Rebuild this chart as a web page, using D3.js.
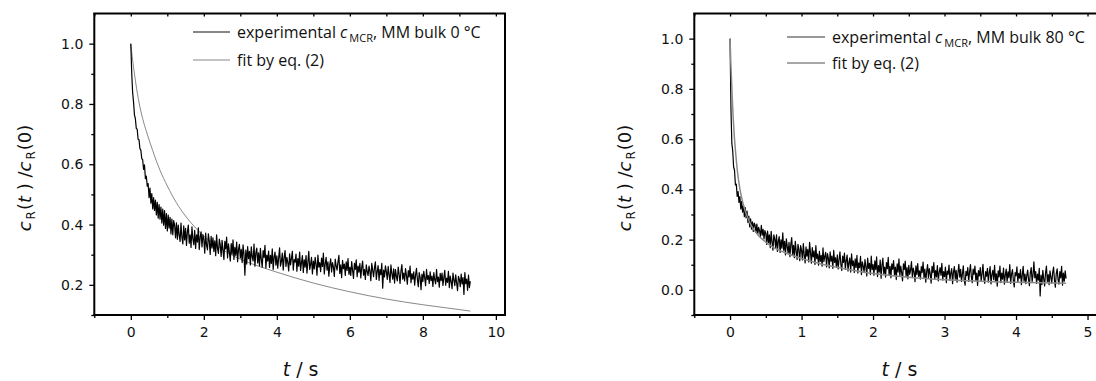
<!DOCTYPE html>
<html><head><meta charset="utf-8">
<script src="https://cdn.jsdelivr.net/npm/d3@7"></script>
<style>
html,body{margin:0;padding:0;background:#fff;}
svg{display:block;}
</style></head>
<body>
<svg id="chart" width="1096" height="381"></svg>
<script>
// ---------- DATA ----------
// Left panel (MM bulk 0 °C): experimental trace, one value every 0.025 s from t = 0
const leftStep = 0.025;
const leftExp = [
1.000,.903,.838,.806,.764,.751,.719,.716,.683,.681,
.652,.647,.619,.615,.583,.598,.552,.561,.527,.536,
.489,.521,.471,.503,.452,.489,.447,.481,.432,.474,
.421,.466,.418,.458,.405,.451,.398,.446,.387,.436,
.379,.431,.388,.424,.369,.418,.366,.413,.398,.356,
.406,.351,.398,.365,.344,.405,.358,.336,.396,.349,
.387,.331,.376,.398,.338,.366,.324,.392,.352,.333,
.381,.321,.366,.342,.389,.317,.358,.376,.326,.367,
.352,.305,.372,.331,.316,.369,.344,.301,.361,.322,
.356,.311,.346,.297,.366,.321,.304,.352,.333,.294,
.348,.315,.284,.344,.319,.358,.289,.336,.309,.279,
.337,.302,.349,.284,.324,.298,.342,.277,.318,.334,
.289,.318,.274,.333,.301,.232,.315,.269,.327,.287,
.311,.266,.326,.293,.279,.335,.262,.306,.322,.273,
.306,.263,.321,.284,.259,.314,.291,.331,.256,.299,
.279,.312,.258,.298,.271,.319,.251,.292,.309,.265,
.296,.255,.289,.323,.262,.278,.305,.249,.291,.314,
.261,.291,.274,.246,.303,.266,.288,.311,.249,.284,
.275,.302,.245,.287,.262,.309,.248,.273,.297,.241,
.283,.259,.297,.239,.275,.311,.251,.268,.291,.236,
.279,.253,.291,.268,.232,.299,.259,.274,.244,.289,
.261,.305,.236,.269,.291,.249,.276,.229,.266,.286,
.243,.274,.259,.228,.285,.263,.249,.276,.298,.238,
.266,.224,.281,.254,.269,.231,.276,.248,.287,.235,
.258,.231,.277,.248,.221,.271,.251,.283,.227,.262,
.242,.271,.223,.257,.279,.232,.251,.218,.266,.244,
.231,.262,.245,.214,.271,.249,.227,.257,.276,.218,
.245,.264,.215,.251,.234,.271,.189,.249,.226,.263,
.243,.218,.261,.234,.208,.266,.238,.219,.253,.206,
.251,.228,.213,.259,.235,.205,.246,.267,.219,.239,
.213,.254,.231,.202,.247,.226,.262,.207,.237,.219,
.243,.199,.232,.255,.219,.194,.241,.225,.184,.236,
.211,.245,.223,.197,.251,.218,.231,.205,.243,.214,
.229,.195,.241,.217,.203,.251,.211,.226,.192,.238,
.214,.239,.198,.224,.248,.199,.222,.208,.245,.191,
.229,.211,.187,.239,.216,.197,.233,.206,.181,.228,
.218,.194,.236,.203,.224,.168,.241,.204,.219,.182,
.232,.191,.212
];
// Left fit by eq. (2): [t, value]
const leftFit = [
[0,1.0],[0.05,0.945],[0.1,0.9],[0.16,0.85],[0.25,0.79],[0.35,0.74],[0.45,0.70],
[0.6,0.645],[0.8,0.58],[1.0,0.528],[1.25,0.472],[1.5,0.428],[1.75,0.392],[2.0,0.362],
[2.5,0.318],[3.0,0.285],[3.5,0.262],[4.0,0.242],[5.0,0.206],[6.0,0.177],[7.0,0.153],
[8.0,0.134],[9.0,0.118],[9.3,0.113]
];
// Right panel (MM bulk 80 °C): experimental trace, one value every 0.0125 s from t = 0
const rightStep = 0.0125;
const rightExp = [
1.000,.724,.583,.552,.489,.476,.418,.421,.372,.391,
.348,.371,.322,.352,.309,.338,.291,.327,.286,.314,
.268,.294,.251,.283,.242,.271,.233,.266,.258,.229,
.262,.221,.249,.236,.213,.257,.218,.241,.203,.236,
.226,.181,.234,.189,.219,.168,.233,.191,.158,.219,
.203,.169,.219,.153,.193,.212,.149,.199,.166,.227,
.158,.193,.139,.203,.172,.145,.189,.132,.181,.208,
.141,.177,.128,.193,.155,.121,.181,.161,.116,.176,
.157,.119,.184,.139,.107,.171,.134,.161,.111,.189,
.148,.106,.168,.131,.155,.101,.176,.124,.142,.098,
.153,.113,.137,.094,.167,.112,.133,.149,.091,.144,
.126,.087,.151,.114,.134,.085,.157,.109,.128,.089,
.139,.083,.121,.151,.101,.077,.134,.109,.146,.081,
.117,.138,.075,.109,.127,.071,.143,.096,.115,.069,
.123,.089,.137,.067,.108,.088,.133,.061,.112,.095,
.069,.121,.091,.055,.126,.085,.106,.061,.134,.081,
.101,.058,.116,.081,.131,.053,.097,.071,.119,.046,
.098,.126,.065,.091,.051,.109,.084,.129,.059,.094,
.048,.104,.082,.117,.058,.091,.041,.104,.071,.123,
.055,.095,.069,.036,.104,.081,.115,.052,.089,.044,
.098,.062,.079,.113,.049,.087,.071,.033,.096,.061,
.105,.054,.076,.043,.093,.069,.111,.048,.083,.031,
.073,.101,.047,.085,.064,.027,.094,.069,.109,.042,
.077,.052,.097,.036,.069,.089,.058,.106,.039,.073,
.053,.091,.029,.075,.062,.099,.038,.067,.085,.025,
.071,.093,.043,.078,.031,.067,.102,.051,.082,.034,
.063,.096,.039,.019,.074,.057,.089,.034,.071,.101,
.053,.029,.083,.062,.095,.038,.067,.018,.077,.056,
.089,.035,.064,.102,.043,.026,.073,.054,.086,.031,
.068,.093,.024,.061,.078,.041,.098,.033,.064,.015,
.076,.052,.095,.029,.067,.043,.087,.023,.059,.083,
.032,.072,.049,.101,.026,.063,.081,.038,.012,.069,
.056,.092,.031,.066,.047,.081,.021,.059,.094,.034,
.063,.025,.056,.079,.041,.017,.069,.089,.033,.059,
.112,.048,.073,.026,.063,.039,.086,-.024,.059,.022,
.078,.043,.016,.067,.095,.033,.061,.021,.076,.051,
.027,.069,.091,.039,.011,.064,.084,.042,.023,.073,
.048,.094,.019,.067,.035,.076,.045
];
const rightFit = [
[0,1.0],[0.01,0.91],[0.02,0.84],[0.03,0.77],[0.045,0.68],[0.06,0.61],[0.08,0.54],
[0.1,0.48],[0.13,0.415],[0.16,0.37],[0.2,0.325],[0.25,0.285],[0.3,0.255],[0.4,0.215],
[0.5,0.19],[0.6,0.17],[0.8,0.145],[1.0,0.125],[1.25,0.105],[1.5,0.09],[2.0,0.065],
[2.5,0.05],[3.0,0.04],[3.5,0.034],[4.0,0.03],[4.7,0.026]
];
// Ticks
const leftXMajor = [0,2,4,6,8,10], leftXMinor = [-1,1,3,5,7,9];
const leftYMajor = [0.2,0.4,0.6,0.8,1.0], leftYMinor = [0.1,0.3,0.5,0.7,0.9];
const rightXMajor = [0,1,2,3,4,5], rightXMinor = [-0.5,0.5,1.5,2.5,3.5,4.5];
const rightYMajor = [0.0,0.2,0.4,0.6,0.8,1.0], rightYMinor = [-0.1,0.1,0.3,0.5,0.7,0.9];
const legendTemps = ["0 °C","80 °C"];

// ---------- DRAW ----------
const svg = d3.select("#chart");
const TF = '"DejaVu Sans",sans-serif';
const LF = '"Open Sans",sans-serif';
const panels = [
 {exp:leftExp, step:leftStep, fit:leftFit, xd:[-1,10.25], xr:[94.3,505], yd:[0.1,1.1],
  xMaj:leftXMajor, xMin:leftXMinor, yMaj:leftYMajor, yMin:leftYMinor,
  fitColor:"#7a7a7a", fitW:0.9, expLeg:"#111", leg:{x1:193,x2:230,y1:32,y2:60}, temp:legendTemps[0],
  ylabX:30.5, xlabT:4.65},
 {exp:rightExp, step:rightStep, fit:rightFit, xd:[-0.5,5.25], xr:[694.3,1105.4], yd:[-0.1,1.1],
  xMaj:rightXMajor, xMin:rightXMinor, yMaj:rightYMajor, yMin:rightYMinor,
  fitColor:"#8a8a8a", fitW:1.5, expLeg:"#333", leg:{x1:787,x2:825,y1:37,y2:63}, temp:legendTemps[1],
  ylabX:630.5, xlabT:2.37}
];
const yTop = 13.5, yBot = 315;

panels.forEach((p, idx) => {
  const x = d3.scaleLinear().domain(p.xd).range(p.xr);
  const y = d3.scaleLinear().domain(p.yd).range([yBot, yTop]);
  const g = svg.append("g");
  const clipId = "clip" + idx;
  svg.append("clipPath").attr("id", clipId).append("rect")
    .attr("x", p.xr[0]).attr("y", yTop).attr("width", p.xr[1]-p.xr[0]).attr("height", yBot-yTop);

  const ax = (axis, tr) => {
    const a = g.append("g").attr("transform", tr).call(axis)
      .attr("font-family", TF).attr("font-size", 14);
    a.select(".domain").remove();
    a.selectAll(".tick line").attr("stroke", "#000").attr("stroke-width", 1.3);
    a.selectAll(".tick text").attr("fill", "#111");
    return a;
  };
  ax(d3.axisBottom(x).tickValues(p.xMaj).tickSize(5).tickPadding(7).tickFormat(d3.format("d")), `translate(0,${yBot})`);
  ax(d3.axisBottom(x).tickValues(p.xMin).tickSize(3).tickFormat(""), `translate(0,${yBot})`);
  ax(d3.axisLeft(y).tickValues(p.yMaj).tickSize(5).tickPadding(6).tickFormat(d3.format(".1f")), `translate(${p.xr[0]},0)`);
  ax(d3.axisLeft(y).tickValues(p.yMin).tickSize(3).tickFormat(""), `translate(${p.xr[0]},0)`);
  ax(d3.axisBottom(x).tickValues(p.xMaj.concat(p.xMin)).tickSize(3).tickFormat(""), `translate(0,${yTop})`);

  const expPts = p.exp.map((v, i) => [i * p.step, v]);
  const line = d3.line().x(d => x(d[0])).y(d => y(d[1]));
  const fitLine = d3.line().x(d => x(d[0])).y(d => y(d[1])).curve(d3.curveMonotoneX);
  if (idx === 0) {
    g.append("path").datum(p.fit).attr("clip-path", `url(#${clipId})`).attr("d", fitLine)
      .attr("fill", "none").attr("stroke", p.fitColor).attr("stroke-width", p.fitW);
  }
  g.append("path").datum(expPts).attr("clip-path", `url(#${clipId})`).attr("d", line)
    .attr("fill", "none").attr("stroke", "#000").attr("stroke-width", 1.2).attr("stroke-linejoin", "round");
  if (idx === 1) {
    g.append("path").datum(p.fit).attr("clip-path", `url(#${clipId})`).attr("d", fitLine)
      .attr("fill", "none").attr("stroke", p.fitColor).attr("stroke-width", p.fitW);
  }

  // frame
  const fr = g.append("g").attr("stroke", "#000").attr("stroke-width", 2).attr("fill", "none");
  fr.append("line").attr("x1", p.xr[0]-1).attr("x2", p.xr[1]+1).attr("y1", yTop).attr("y2", yTop);
  fr.append("line").attr("x1", p.xr[0]-1).attr("x2", p.xr[1]+1).attr("y1", yBot).attr("y2", yBot);
  fr.append("line").attr("x1", p.xr[0]).attr("x2", p.xr[0]).attr("y1", yTop).attr("y2", yBot);
  fr.append("line").attr("x1", p.xr[1]).attr("x2", p.xr[1]).attr("y1", yTop).attr("y2", yBot);

  // legend
  const L = p.leg;
  g.append("line").attr("x1", L.x1).attr("x2", L.x2).attr("y1", L.y1).attr("y2", L.y1).attr("stroke", p.expLeg).attr("stroke-width", 1.1);
  g.append("line").attr("x1", L.x1).attr("x2", L.x2).attr("y1", L.y2).attr("y2", L.y2).attr("stroke", p.fitColor).attr("stroke-width", p.fitW);
  const t1 = g.append("text").attr("x", L.x2 + 7).attr("y", L.y1 + 5.5).attr("font-family", LF).attr("font-size", 16).attr("fill", "#111");
  t1.append("tspan").text("experimental ");
  t1.append("tspan").attr("font-style", "italic").text("c");
  t1.append("tspan").attr("font-size", 11).attr("dy", 4).attr("dx", 2).text("MCR");
  t1.append("tspan").attr("dy", -4).text(", MM bulk " + p.temp);
  g.append("text").attr("x", L.x2 + 7).attr("y", L.y2 + 5.5).attr("font-family", LF).attr("font-size", 16).attr("fill", "#111").text("fit by eq. (2)");

  // x title
  const xt = g.append("text").attr("x", x(p.xlabT)).attr("y", 376).attr("text-anchor", "middle")
    .attr("font-family", TF).attr("font-size", 19).attr("fill", "#111");
  xt.append("tspan").attr("font-style", "italic").text("t");
  xt.append("tspan").text(" / s");

  // y title
  const yt = g.append("text").attr("transform", `translate(${p.ylabX},178) rotate(-90)`).attr("text-anchor", "middle")
    .attr("font-family", TF).attr("font-size", 18).attr("fill", "#111");
  yt.append("tspan").attr("font-style", "italic").text("c");
  yt.append("tspan").attr("font-size", 12).attr("dy", 4).attr("dx", 2).text("R");
  yt.append("tspan").attr("dy", -4).attr("dx", 1).text("(");
  yt.append("tspan").attr("font-style", "italic").text("t");
  yt.append("tspan").text(" ) /");
  yt.append("tspan").attr("font-style", "italic").text("c");
  yt.append("tspan").attr("font-size", 12).attr("dy", 4).attr("dx", 2).text("R");
  yt.append("tspan").attr("dy", -4).attr("dx", 1).text("(0)");
});
</script>
</body></html>
